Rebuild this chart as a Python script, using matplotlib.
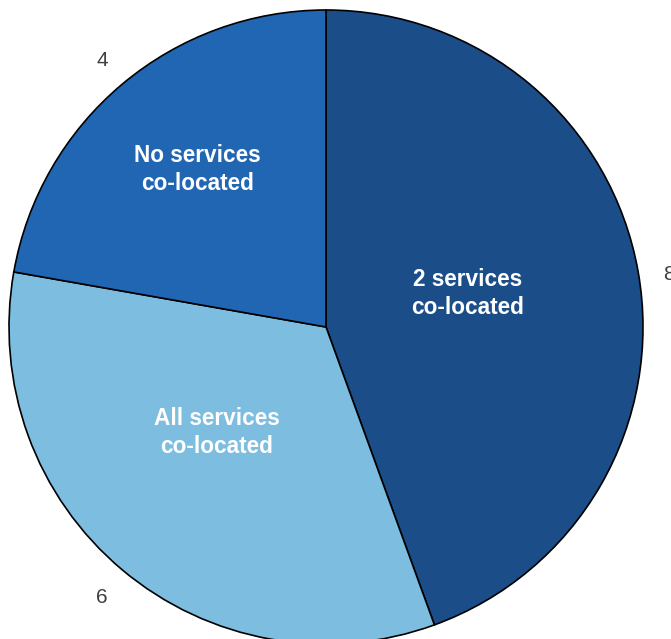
import matplotlib
matplotlib.use("Agg")
import matplotlib.pyplot as plt
import numpy as np

categories = ["2 services\nco-located", "All services\nco-located", "No services\nco-located"]
values = [8, 6, 4]
colors = ["#1b4d89", "#7cbde0", "#2166b3"]

plt.rcParams['font.family'] = ['Liberation Sans', 'DejaVu Sans']

fig = plt.figure(figsize=(6.71, 6.39), dpi=100)
ax = fig.add_axes([0, 0, 1, 1])

cx, cy, r = 326, 312, 317
wedges, _ = ax.pie(values, colors=colors, startangle=90, counterclock=False,
                   center=(cx, cy), radius=r, frame=True,
                   wedgeprops=dict(edgecolor='black', linewidth=1.2))
ax.set_xlim(0, 671)
ax.set_ylim(0, 639)
ax.set_aspect('auto')
ax.axis('off')

# (radial factor, angle offset in degrees) for label placement
inner_pos = [(0.46, 3.3), (0.479, -6.0), (0.642, -0.7)]
outer_pos = [(1.095, -1.0), (1.1025, 0.07), (1.1025, -0.14)]
for w, cat, v, (fi, ai), (fo, ao) in zip(wedges, categories, values, inner_pos, outer_pos):
    mid = (w.theta1 + w.theta2) / 2
    a = np.deg2rad(mid + ai)
    ax.text(cx + fi * r * np.cos(a), cy + fi * r * np.sin(a), cat,
            ha='center', va='center', color='white', fontsize=16.3,
            fontweight='bold', linespacing=1.3)
    b = np.deg2rad(mid + ao)
    ax.text(cx + fo * r * np.cos(b), cy + fo * r * np.sin(b), str(v),
            ha='center', va='center_baseline', color='#404040', fontsize=15)

fig.savefig("out.png", dpi=100)
